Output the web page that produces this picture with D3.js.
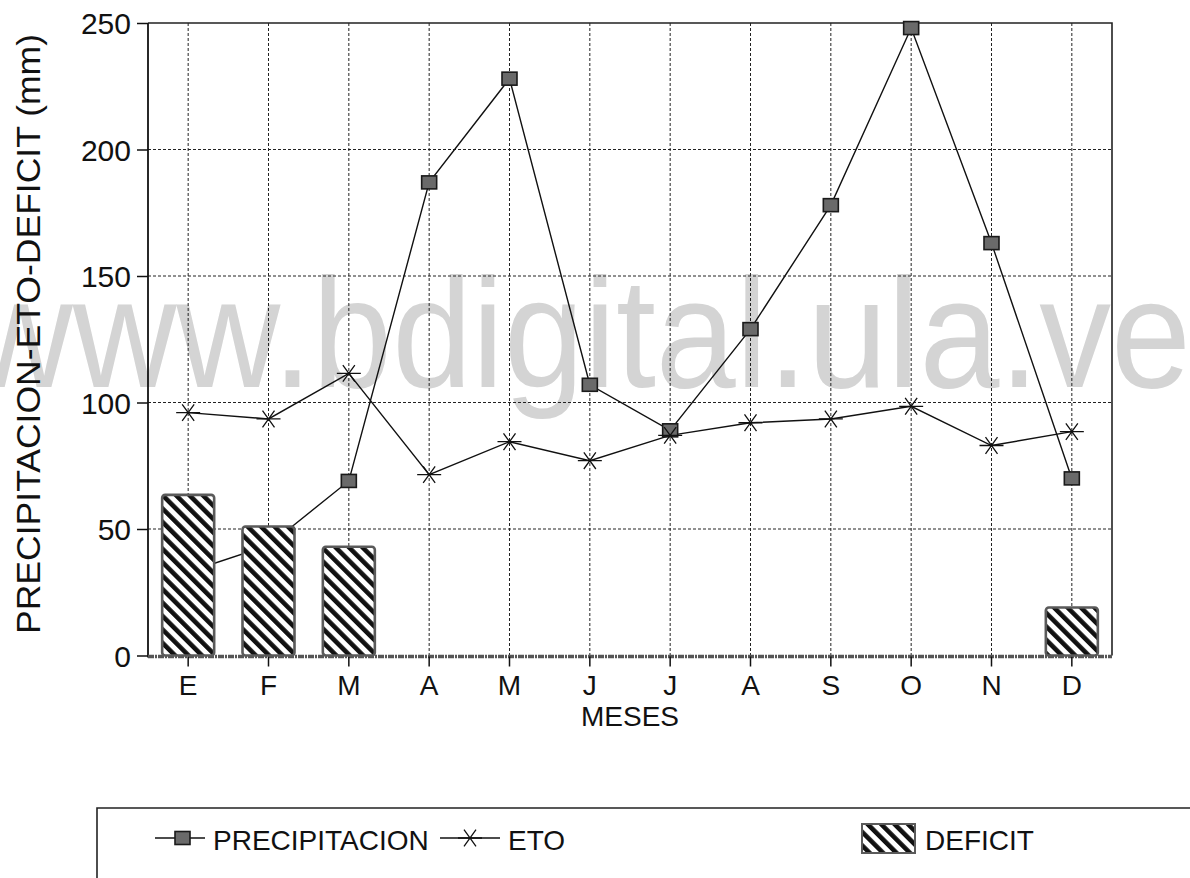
<!DOCTYPE html>
<html>
<head>
<meta charset="utf-8">
<script src="https://cdn.jsdelivr.net/npm/d3@7"></script>
<style>
  html, body { margin: 0; padding: 0; background: #ffffff; }
  svg { display: block; }
  text { font-family: "Liberation Sans", Arial, Helvetica, sans-serif; fill: #111; }
</style>
</head>
<body>
<svg id="chart" width="1190" height="878"></svg>
<script>
// Monthly water balance: precipitation, reference evapotranspiration and deficit (mm)
const meses = ["E", "F", "M", "A", "M", "J", "J", "A", "S", "O", "N", "D"];
const precipitacion = [33, 43.5, 69, 187, 228, 107, 89, 129, 178, 248, 163, 70];
const eto = [96, 93.5, 111.5, 71.5, 84.5, 77, 87, 92, 93.5, 98.5, 83, 88.5];
const deficit = [63.5, 51, 43, 0, 0, 0, 0, 0, 0, 0, 0, 19];
const yTicks = [0, 50, 100, 150, 200, 250];

const svg = d3.select("#chart");
const W = 1190, H = 878;
const plot = { left: 148, right: 1112, top: 23, bottom: 655.5 };

const x = d3.scaleBand()
  .domain(d3.range(meses.length))
  .range([plot.left, plot.right])
  .paddingInner(0)
  .paddingOuter(0);
const y = d3.scaleLinear().domain([0, 250]).range([plot.bottom, plot.top]);
const cx = i => x(i) + x.bandwidth() / 2;

// hatch fill for deficit bars
const defs = svg.append("defs");
const hatch = defs.append("pattern")
  .attr("id", "hatch")
  .attr("patternUnits", "userSpaceOnUse")
  .attr("width", 9.5).attr("height", 9.5)
  .attr("patternTransform", "rotate(-45)");
hatch.append("rect").attr("width", 9.5).attr("height", 9.5).attr("fill", "#fff");
hatch.append("rect").attr("width", 4.6).attr("height", 9.5).attr("fill", "#111");

// background site mark
svg.append("text")
  .attr("x", -31).attr("y", 387)
  .attr("font-size", 155)
  .attr("textLength", 1222)
  .attr("lengthAdjust", "spacingAndGlyphs")
  .style("fill", "#d4d4d4")
  .text("www.bdigital.ula.ve");

// grid
const grid = svg.append("g").attr("stroke", "#222").attr("stroke-width", 1)
  .attr("stroke-dasharray", "3,2").attr("fill", "none");
grid.selectAll("line.h").data(yTicks.filter(v => v > 0 && v < 250)).join("line")
  .attr("x1", plot.left).attr("x2", plot.right)
  .attr("y1", d => y(d)).attr("y2", d => y(d));
grid.selectAll("line.v").data(d3.range(meses.length)).join("line")
  .attr("x1", d => cx(d)).attr("x2", d => cx(d))
  .attr("y1", plot.top).attr("y2", plot.bottom);

// frame: top and right edges
svg.append("path")
  .attr("d", `M${plot.left},${plot.top}H${plot.right}V${plot.bottom}`)
  .attr("fill", "none").attr("stroke", "#222").attr("stroke-width", 1.6);

// y axis
const yAxis = svg.append("g")
  .attr("transform", `translate(${plot.left},0)`)
  .call(d3.axisLeft(y).tickValues(yTicks).tickSize(11).tickPadding(6));
yAxis.select(".domain").attr("stroke", "#111").attr("stroke-width", 1.8)
  .attr("d", `M0,${plot.top}V${plot.bottom + 2}`);
yAxis.selectAll(".tick line").attr("stroke", "#111").attr("stroke-width", 1.5);
yAxis.selectAll(".tick text").attr("font-size", 30).attr("dy", "0.36em")
  .style("font-family", "'Liberation Sans', Arial, sans-serif").attr("fill", "#111");

// x axis
const xAxis = svg.append("g")
  .attr("transform", `translate(0,${plot.bottom + 1})`)
  .call(d3.axisBottom(x).tickFormat(i => meses[i]).tickSize(10).tickPadding(8));
xAxis.select(".domain").attr("stroke", "#555").attr("stroke-width", 3.5)
  .attr("stroke-dasharray", "6,1,2,1")
  .attr("d", `M${plot.left},0H${plot.right}`);
xAxis.selectAll(".tick line").attr("stroke", "#111").attr("stroke-width", 1.5);
xAxis.selectAll(".tick text").attr("font-size", 28).attr("dy", "0.74em")
  .style("font-family", "'Liberation Sans', Arial, sans-serif").attr("fill", "#111");

// axis titles
svg.append("text")
  .attr("x", 630).attr("y", 726)
  .attr("text-anchor", "middle")
  .attr("font-size", 28)
  .text("MESES");
svg.append("text")
  .attr("transform", "translate(40,334) rotate(-90)")
  .attr("text-anchor", "middle")
  .attr("font-size", 33)
  .attr("textLength", 600)
  .attr("lengthAdjust", "spacingAndGlyphs")
  .text("PRECIPITACION-ETO-DEFICIT (mm)");

// asterisk marker: horizontal stroke plus two diagonals
function asterisk(r) {
  const dx = r * Math.cos(Math.PI / 3), dy = r * Math.sin(Math.PI / 3) * 0.8;
  return `M${-r},0H${r}M${-dx},${-dy}L${dx},${dy}M${-dx},${dy}L${dx},${-dy}`;
}

// series lines
const line = d3.line().x((d, i) => cx(i)).y(d => y(d));
svg.append("path").datum(precipitacion).attr("d", line)
  .attr("fill", "none").attr("stroke", "#111").attr("stroke-width", 1.4);
svg.append("path").datum(eto).attr("d", line)
  .attr("fill", "none").attr("stroke", "#111").attr("stroke-width", 1.4);

// precipitation markers
svg.append("g").selectAll("rect").data(precipitacion).join("rect")
  .attr("x", (d, i) => cx(i) - 7.5).attr("y", d => y(d) - 6.5)
  .attr("width", 15).attr("height", 13)
  .attr("fill", "#6a6a6a").attr("stroke", "#1a1a1a").attr("stroke-width", 1.6);

// ETO markers
svg.append("g").selectAll("path").data(eto).join("path")
  .attr("transform", (d, i) => `translate(${cx(i)},${y(d)})`)
  .attr("d", asterisk(12))
  .attr("fill", "none").attr("stroke", "#111").attr("stroke-width", 1.3);

// deficit bars (drawn over the lines)
const barW = 52;
svg.append("g").selectAll("rect").data(deficit.map((v, i) => ({ v, i })).filter(d => d.v > 0)).join("rect")
  .attr("x", d => cx(d.i) - barW / 2)
  .attr("y", d => y(d.v))
  .attr("width", barW)
  .attr("height", d => y(0) - y(d.v))
  .attr("rx", 3)
  .attr("fill", "url(#hatch)")
  .attr("stroke", "#5a5a5a").attr("stroke-width", 2.6);

// legend
const lg = svg.append("g");
lg.append("path").attr("d", `M97,${H + 5}V808H${W + 5}`)
  .attr("fill", "none").attr("stroke", "#222").attr("stroke-width", 1.6);
const ly = 838;
lg.append("line").attr("x1", 155).attr("x2", 205).attr("y1", ly).attr("y2", ly)
  .attr("stroke", "#111").attr("stroke-width", 1.4);
lg.append("rect").attr("x", 175).attr("y", ly - 6.5).attr("width", 15).attr("height", 13)
  .attr("fill", "#6a6a6a").attr("stroke", "#1a1a1a").attr("stroke-width", 1.6);
lg.append("text").attr("x", 213).attr("y", ly + 12).attr("font-size", 28).text("PRECIPITACION");
lg.append("line").attr("x1", 440).attr("x2", 500).attr("y1", ly).attr("y2", ly)
  .attr("stroke", "#111").attr("stroke-width", 1.4);
lg.append("path").attr("transform", `translate(470,${ly})`).attr("d", asterisk(12))
  .attr("fill", "none").attr("stroke", "#111").attr("stroke-width", 1.3);
lg.append("text").attr("x", 508).attr("y", ly + 12).attr("font-size", 28).text("ETO");
lg.append("rect").attr("x", 862).attr("y", 824).attr("width", 53).attr("height", 29)
  .attr("fill", "url(#hatch)").attr("stroke", "#5a5a5a").attr("stroke-width", 2);
lg.append("text").attr("x", 925).attr("y", ly + 12).attr("font-size", 28).text("DEFICIT");
</script>
</body>
</html>
